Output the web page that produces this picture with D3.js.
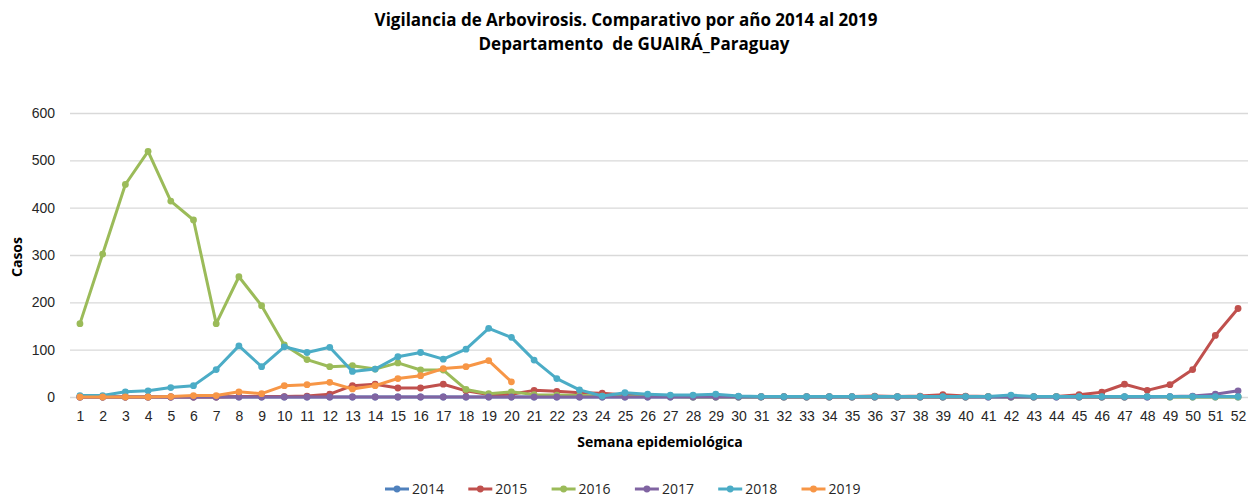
<!DOCTYPE html>
<html lang="es">
  <head>
    <meta charset="UTF-8" />
    <title>Vigilancia de Arbovirosis</title>
    <style>
      body { margin: 0; background: #fff; }
      svg { font-family: "Open Sans", "Noto Sans", sans-serif; }
      .grid line { stroke: #d9d9d9; stroke-width: 1.3px; }
      .tick text { fill: #262626; font-size: 14px; }
      .serie path { fill: none; stroke-width: 3px; stroke-linejoin: round; }
      .titulo { white-space: pre; }
    </style>
  </head>
  <body>
    <svg></svg>
    <script src="https://cdnjs.cloudflare.com/ajax/libs/d3/7.8.5/d3.min.js"></script>
    <script>
      // semanas epidemiologicas (eje x)
      const semanas = [1, 2, 3, 4, 5, 6, 7, 8, 9, 10, 11, 12, 13, 14, 15, 16, 17, 18, 19, 20,
        21, 22, 23, 24, 25, 26, 27, 28, 29, 30, 31, 32, 33, 34, 35, 36, 37, 38, 39, 40,
        41, 42, 43, 44, 45, 46, 47, 48, 49, 50, 51, 52];
      const yTicks = [0, 100, 200, 300, 400, 500, 600];
      const anios = ["2014", "2015", "2016", "2017", "2018", "2019"];
      const colores = ["#4f81bd", "#c0504d", "#9bbb59", "#8064a2", "#4bacc6", "#f79646"];

      const casos2014 = [0, 0, 0, 0, 0, 0, 0, 0, 0, 0, 0, 0, 0, 0, 0, 0, 0, 0, 0, 0,
        0, 0, 0, 0, 0, 0, 0, 0, 0, 0, 0, 0, 0, 0, 0, 0, 0, 0, 0, 0,
        0, 0, 0, 0, 0, 0, 0, 0, 0, 0, 0, 0];
      const casos2015 = [0, 0, 0, 0, 0, 0, 0, 1, 1, 1, 2, 6, 24, 27, 19, 19, 27, 13, 5, 6,
        14, 12, 9, 8, 4, 3, 2, 2, 1, 1, 1, 1, 1, 1, 1, 2, 1, 2, 5, 2,
        1, 1, 1, 1, 5, 10, 27, 14, 26, 58, 130, 187];
      const casos2016 = [155, 302, 449, 519, 414, 374, 155, 254, 193, 110, 79, 64, 66, 59, 72, 57, 57, 16, 7, 11,
        5, 4, 3, 2, 1, 1, 1, 0, 0, 0, 0, 0, 0, 0, 0, 0, 0, 0, 0, 0,
        1, 0, 0, 1, 0, 0, 0, 1, 0, 0, 0, 0];
      const casos2017 = [0, 0, 0, 0, 0, 0, 0, 0, 0, 0, 0, 0, 0, 0, 0, 0, 0, 0, 0, 0,
        0, 0, 0, 0, 0, 0, 0, 0, 0, 0, 0, 0, 0, 0, 0, 0, 0, 0, 0, 0,
        0, 0, 0, 0, 0, 0, 0, 0, 1, 2, 6, 13];
      const casos2018 = [3, 3, 11, 13, 20, 24, 58, 108, 64, 106, 94, 105, 54, 59, 85, 94, 80, 101, 145, 126,
        78, 39, 15, 2, 9, 6, 4, 4, 6, 2, 1, 1, 1, 1, 1, 1, 1, 1, 1, 1,
        1, 4, 1, 1, 1, 1, 1, 1, 1, 1, 1, 1];
      const casos2019 = [0, 0, 0, 0, 1, 3, 3, 11, 7, 24, 26, 31, 17, 24, 39, 45, 60, 64, 77, 32];

      const series = [casos2014, casos2015, casos2016, casos2017, casos2018, casos2019];

      const width = 1252, height = 499;
      const svg = d3.select("svg").attr("width", width).attr("height", height);

      const x = d3.scalePoint().domain(semanas).range([68.6, 1249.4]).padding(0.5);
      const y = d3.scaleLinear().domain([0, 600]).range([397, 113]);

      // lineas de grilla + etiquetas eje y
      const yAxis = svg.append("g")
        .attr("class", "grid")
        .attr("transform", "translate(70,0)")
        .call(d3.axisLeft(y).tickValues(yTicks).tickSize(-1178).tickPadding(15));
      yAxis.select(".domain").remove();

      const xAxis = svg.append("g")
        .attr("transform", "translate(0,397)")
        .call(d3.axisBottom(x).tickSize(0).tickPadding(14));
      xAxis.select(".domain").remove();

      // series
      const line = d3.line()
        .defined(d => d != null)
        .x((d, i) => x(semanas[i]))
        .y(d => y(d));

      series.forEach(function (vals, k) {
        const g = svg.append("g").attr("class", "serie");
        g.append("path").attr("d", line(vals)).attr("stroke", colores[k]);
        g.selectAll("circle")
          .data(vals)
          .enter()
          .append("circle")
          .attr("cx", (d, i) => x(semanas[i]))
          .attr("cy", d => y(d))
          .attr("r", 3.4)
          .attr("fill", colores[k]);
      });

      // titulos
      svg.append("text")
        .attr("class", "titulo")
        .attr("x", 626).attr("y", 26)
        .attr("text-anchor", "middle")
        .attr("font-size", 17).attr("font-weight", "bold").attr("fill", "#000")
        .text("Vigilancia de Arbovirosis. Comparativo por año 2014 al 2019");
      svg.append("text")
        .attr("class", "titulo")
        .attr("x", 634).attr("y", 50)
        .attr("text-anchor", "middle")
        .attr("font-size", 17).attr("font-weight", "bold").attr("fill", "#000")
        .text("Departamento  de GUAIRÁ_Paraguay");

      svg.append("text")
        .attr("transform", "translate(22,257) rotate(-90)")
        .attr("text-anchor", "middle")
        .attr("font-size", 14).attr("font-weight", "bold")
        .text("Casos");
      svg.append("text")
        .attr("x", 660).attr("y", 447)
        .attr("text-anchor", "middle")
        .attr("font-size", 14).attr("font-weight", "bold")
        .text("Semana epidemiológica");

      // leyenda
      const legend = svg.append("g").attr("transform", "translate(385,489)");
      anios.forEach(function (a, k) {
        const it = legend.append("g").attr("transform", "translate(" + k * 83.3 + ",0)");
        it.append("line").attr("x1", 0).attr("x2", 24).attr("y1", 0).attr("y2", 0)
          .attr("stroke", colores[k]).attr("stroke-width", 3);
        it.append("circle").attr("cx", 12).attr("cy", 0).attr("r", 3.4).attr("fill", colores[k]);
        it.append("text").attr("x", 27).attr("y", 5)
          .attr("font-size", 14).attr("fill", "#262626")
          .text(a);
      });
    </script>
  </body>
</html>
